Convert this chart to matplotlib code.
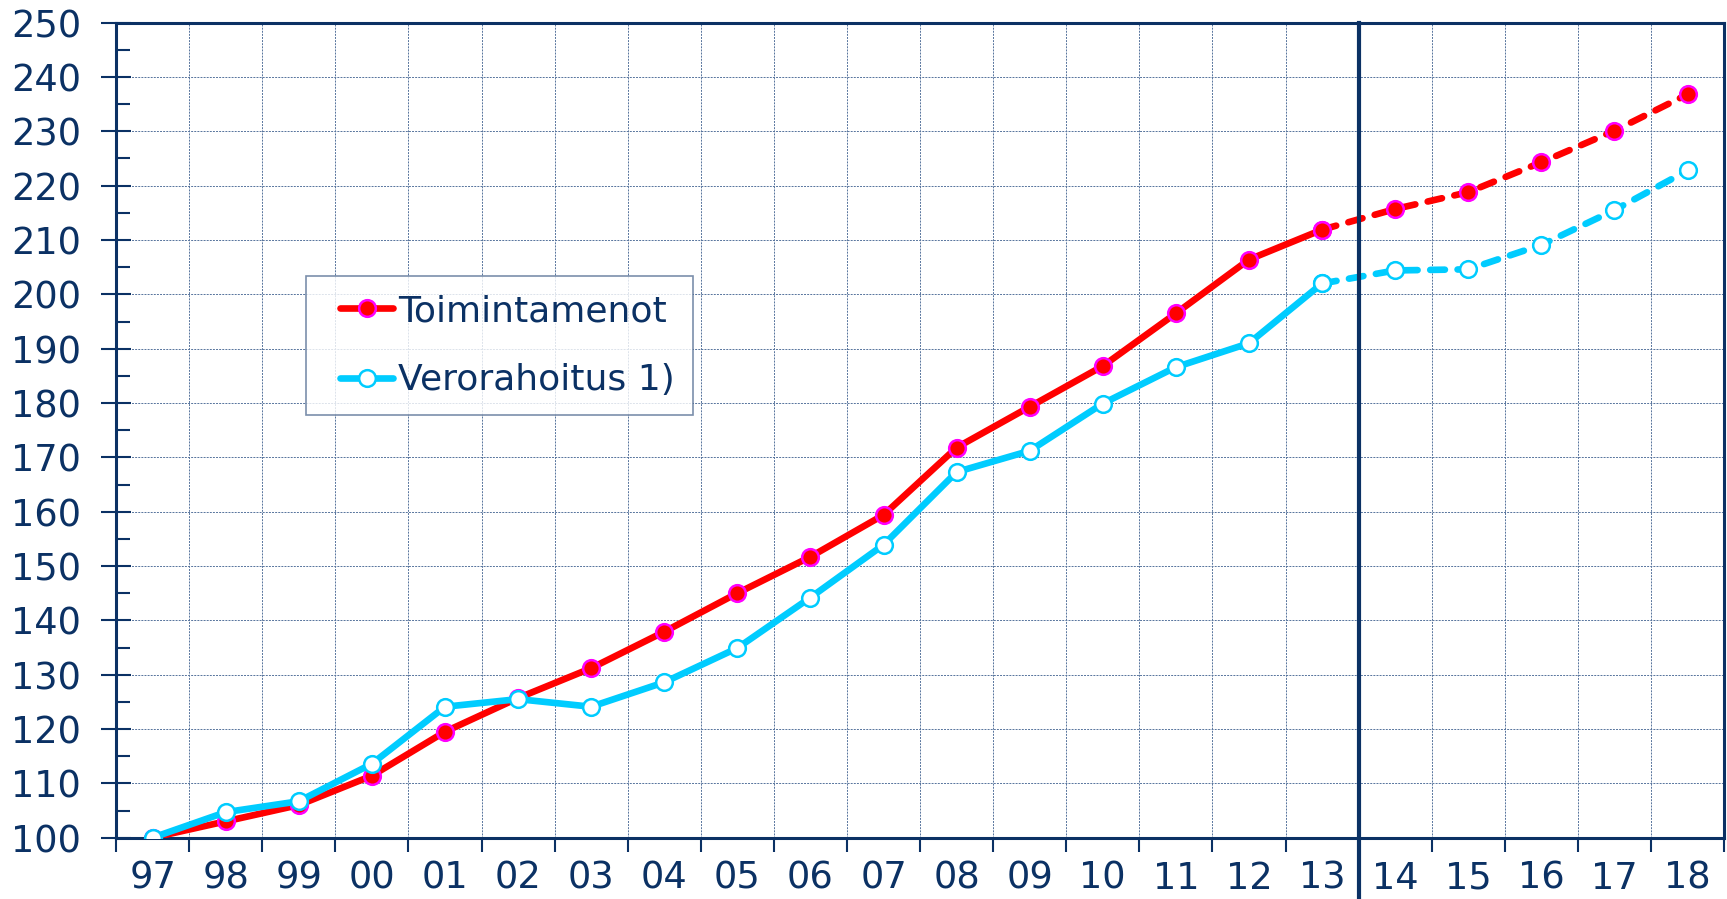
"""Toimintamenot vs. verorahoitus index chart (1997 = 100)."""

import matplotlib.pyplot as plt
import numpy as np
from matplotlib.legend_handler import HandlerLine2D

years = ["97", "98", "99", "00", "01", "02", "03", "04", "05", "06", "07",
         "08", "09", "10", "11", "12", "13", "14", "15", "16", "17", "18"]
toimintamenot = [100, 103, 106, 111.4, 119.5, 125.7, 131.2, 137.9, 145, 151.7, 159.4,
                 171.8, 179.3, 186.8, 196.5, 206.4, 211.9, 215.7, 218.8, 224.3, 230.1, 236.8]
verorahoitus = [100, 104.7, 106.7, 113.6, 124.1, 125.5, 124.1, 128.6, 134.9, 144.2, 153.9,
                167.3, 171.2, 179.9, 186.6, 191.0, 202.0, 204.4, 204.6, 209.1, 215.5, 222.8]
last_actual = "13"  # forecast (dashed) from here on

NAVY = "#0b3164"
GRID = "#56739c"
RED = "#ff0000"
CYAN = "#00ccff"

x = np.arange(len(years))
split = years.index(last_actual)

fig = plt.figure(figsize=(17.27, 8.99), dpi=100)
ax = fig.add_axes([0.0672, 0.0682, 0.9311, 0.9066])

series = [
    (toimintamenot, RED, "#ff00ff", RED, "Toimintamenot"),
    (verorahoitus, CYAN, CYAN, "white", "Verorahoitus 1)"),
]
handles = []
for vals, col, edge, face, label in series:
    vals = np.asarray(vals)
    style = dict(color=col, lw=4.8, marker="o", ms=12, mec=edge, mew=1.8, mfc=face,
                 solid_capstyle="round", dash_capstyle="round")
    h, = ax.plot(x[:split + 1], vals[:split + 1], label=label, zorder=3, **style)
    ax.plot(x[split:], vals[split:], dashes=(2.2, 1.9), zorder=3, **style)
    handles.append(h)

ax.set_xlim(-0.5, len(years) - 0.5)
ax.set_ylim(100, 250)

# y axis: labelled every 10, small ticks at 5
ax.set_yticks(np.arange(100, 251, 10))
ax.set_yticks(np.arange(105, 250, 10), minor=True)
ax.tick_params(axis="y", which="major", direction="inout", length=22, width=1.5,
               color=NAVY, labelsize=26.5, labelcolor=NAVY, pad=14)
ax.tick_params(axis="y", which="minor", direction="in", length=10, width=1.5, color=NAVY)

# x axis: ticks/grid on category boundaries, labels in the middle
ax.set_xticks(np.arange(len(years) + 1) - 0.5)
ax.set_xticklabels([])
ax.set_xticks(x, minor=True)
ax.set_xticklabels(years, minor=True)
ax.tick_params(axis="x", which="major", direction="out", length=10, width=1.5, color=NAVY)
ax.tick_params(axis="x", which="minor", length=0, labelsize=26.5, labelcolor=NAVY, pad=16)

ax.grid(which="major", color=GRID, lw=0.7, ls=(0, (2, 1.2)), zorder=0)
for s in ax.spines.values():
    s.set_color(NAVY)
    s.set_linewidth(2.2)

# boundary between actual and forecast years
ax.axvline(split + 0.5, ymin=-0.076, ymax=1, color=NAVY, lw=3, clip_on=False, zorder=4)

leg = fig.legend(handles=handles, loc="upper left", bbox_to_anchor=(0.1772, 0.6930),
                 borderaxespad=0, fontsize=26, labelcolor=NAVY, frameon=True,
                 fancybox=False, handlelength=1.9, handletextpad=0.15, labelspacing=0.98,
                 borderpad=0.5,
                 handler_map={h: HandlerLine2D(xpad=0.45) for h in handles})
leg.get_frame().set_edgecolor("#5a7396")
leg.get_frame().set_linewidth(1.2)

fig.savefig("out.png", dpi=100)
